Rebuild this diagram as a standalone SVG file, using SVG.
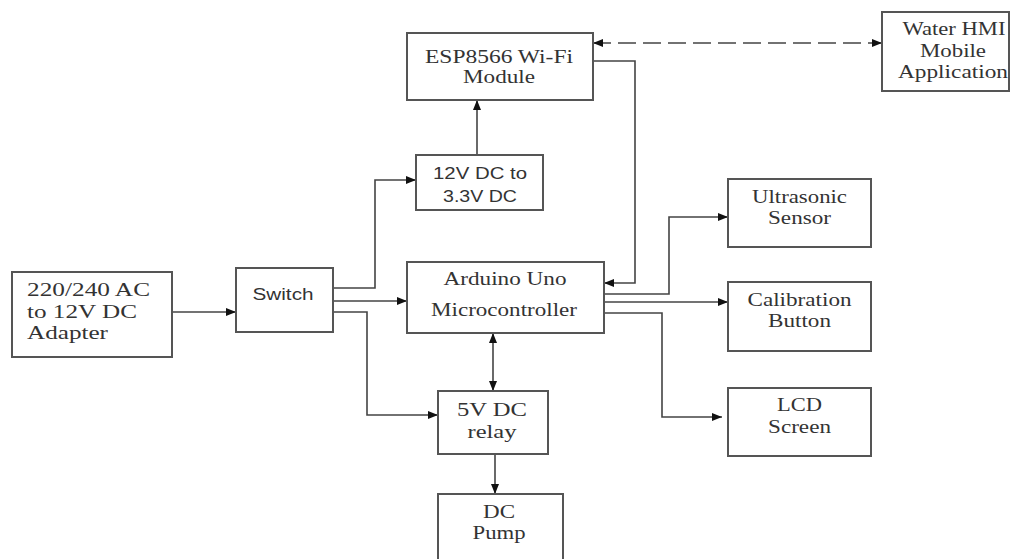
<svg xmlns="http://www.w3.org/2000/svg" width="1011" height="559" viewBox="0 0 1011 559">
<style>
.box{fill:#fff;stroke:#555;stroke-width:2}
.t{font-family:'Liberation Serif','DejaVu Serif',serif;font-size:18px;fill:#333;text-anchor:middle}
.a{font-family:'Liberation Serif','DejaVu Serif',serif;font-size:19px;fill:#333;text-anchor:start}
.s{font-family:'Liberation Sans',Arial,sans-serif;font-size:16px;fill:#333;text-anchor:middle}
.c{fill:none;stroke:#444;stroke-width:1.6}
.d{stroke-dasharray:18 7}
</style>
<defs>
<marker id="ah" viewBox="0 0 10 8" refX="10" refY="4" markerWidth="10" markerHeight="8" markerUnits="userSpaceOnUse" orient="auto-start-reverse">
<path d="M0,0 L10,4 L0,8 z" fill="#111"/>
</marker>
</defs>
<g id="connectors">
<path class="c" d="M172,312 H236" marker-end="url(#ah)"/>
<path class="c" d="M333,288 H375 V180 H416" marker-end="url(#ah)"/>
<path class="c" d="M333,301 H407" marker-end="url(#ah)"/>
<path class="c" d="M333,312 H367 V415 H438" marker-end="url(#ah)"/>
<path class="c" d="M477,155 V100" marker-end="url(#ah)"/>
<path class="c" d="M593,61 H635 V283 H604" marker-end="url(#ah)"/>
<path class="c d" d="M593,43 H882" marker-start="url(#ah)" marker-end="url(#ah)"/>
<path class="c" d="M493,333 V391" marker-start="url(#ah)" marker-end="url(#ah)"/>
<path class="c" d="M495,454 V494" marker-end="url(#ah)"/>
<path class="c" d="M604,294 H669 V217 H728" marker-end="url(#ah)"/>
<path class="c" d="M604,302 H728" marker-end="url(#ah)"/>
<path class="c" d="M604,313 H662 V417 H722" marker-end="url(#ah)"/>
</g>
<g id="esp">
<rect class="box" x="407" y="33" width="186" height="67"/>
<text class="t" x="499" y="63" textLength="148" lengthAdjust="spacingAndGlyphs">ESP8566 Wi-Fi</text>
<text class="t" x="499" y="83" textLength="72" lengthAdjust="spacingAndGlyphs">Module</text>
</g>
<g id="water">
<rect class="box" x="882" y="12" width="127" height="79"/>
<text class="t" x="954" y="35" textLength="103" lengthAdjust="spacingAndGlyphs">Water HMI</text>
<text class="t" x="953" y="57" textLength="66" lengthAdjust="spacingAndGlyphs">Mobile</text>
<text class="t" x="953" y="78" textLength="110" lengthAdjust="spacingAndGlyphs">Application</text>
</g>
<g id="conv">
<rect class="box" x="416" y="155" width="127" height="55"/>
<text class="s" x="480" y="179" textLength="94" lengthAdjust="spacingAndGlyphs">12V DC to</text>
<text class="s" x="480" y="202" textLength="74" lengthAdjust="spacingAndGlyphs">3.3V DC</text>
</g>
<g id="adapter">
<rect class="box" x="12" y="272" width="160" height="85"/>
<text class="a" x="27" y="296" textLength="123" lengthAdjust="spacingAndGlyphs">220/240 AC</text>
<text class="a" x="27" y="318" textLength="110" lengthAdjust="spacingAndGlyphs">to 12V DC</text>
<text class="a" x="27" y="339" textLength="81" lengthAdjust="spacingAndGlyphs">Adapter</text>
</g>
<g id="switch">
<rect class="box" x="236" y="268" width="97" height="64"/>
<text class="s" x="283" y="300" textLength="61" lengthAdjust="spacingAndGlyphs">Switch</text>
</g>
<g id="arduino">
<rect class="box" x="407" y="262" width="197" height="71"/>
<text class="t" x="505" y="285" textLength="123" lengthAdjust="spacingAndGlyphs">Arduino Uno</text>
<text class="t" x="504" y="316" textLength="146" lengthAdjust="spacingAndGlyphs">Microcontroller</text>
</g>
<g id="relay">
<rect class="box" x="438" y="391" width="110" height="63"/>
<text class="t" x="492" y="416" textLength="70" lengthAdjust="spacingAndGlyphs">5V DC</text>
<text class="t" x="492" y="438" textLength="49" lengthAdjust="spacingAndGlyphs">relay</text>
</g>
<g id="pump">
<rect class="box" x="438" y="494" width="125" height="70"/>
<text class="t" x="499" y="518" textLength="32" lengthAdjust="spacingAndGlyphs">DC</text>
<text class="t" x="499" y="539" textLength="53" lengthAdjust="spacingAndGlyphs">Pump</text>
</g>
<g id="ultrasonic">
<rect class="box" x="728" y="179" width="143" height="68"/>
<text class="t" x="799.5" y="203" textLength="95" lengthAdjust="spacingAndGlyphs">Ultrasonic</text>
<text class="t" x="799.5" y="224" textLength="63" lengthAdjust="spacingAndGlyphs">Sensor</text>
</g>
<g id="calibration">
<rect class="box" x="728" y="282" width="143" height="69"/>
<text class="t" x="799.5" y="306" textLength="104" lengthAdjust="spacingAndGlyphs">Calibration</text>
<text class="t" x="799.5" y="327" textLength="63" lengthAdjust="spacingAndGlyphs">Button</text>
</g>
<g id="lcd">
<rect class="box" x="728" y="388" width="143" height="68"/>
<text class="t" x="799.5" y="411" textLength="45" lengthAdjust="spacingAndGlyphs">LCD</text>
<text class="t" x="799.5" y="433" textLength="63" lengthAdjust="spacingAndGlyphs">Screen</text>
</g>
</svg>
